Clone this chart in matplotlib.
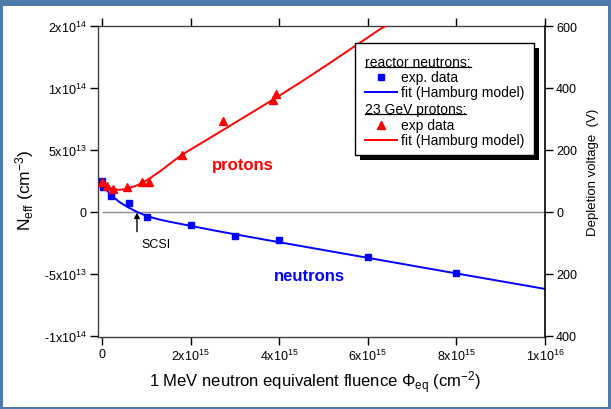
import matplotlib
matplotlib.use('Agg')
import matplotlib.pyplot as plt
from matplotlib.patches import Rectangle
from matplotlib.lines import Line2D
import numpy as np

plt.rcParams['font.family'] = ['Liberation Sans', 'DejaVu Sans']
plt.rcParams['mathtext.fontset'] = 'custom'
plt.rcParams['mathtext.rm'] = 'Liberation Sans'
plt.rcParams['mathtext.it'] = 'Liberation Sans:italic'
plt.rcParams['mathtext.bf'] = 'Liberation Sans:bold'

# ---- data: fluence in units of 1e15 cm^-2, Neff in units of 1e12 cm^-3 ----
neutron_fluence = [0.0, 0.03, 0.2, 0.6, 1.02, 2.0, 3.0, 4.0, 6.0, 8.0]
neutron_neff = [25.3, 19.7, 12.9, 6.8, -4.4, -10.9, -19.7, -22.9, -36.6, -49.4]

neutron_fit_fluence = [0.0, 0.05, 0.1, 0.2, 0.4, 0.6, 0.8, 1.0, 1.25, 1.5, 2.0, 2.5, 3.0, 4.0, 6.0, 8.0, 10.0]
neutron_fit_neff = [24.0, 20.5, 17.8, 13.6, 7.8, 3.4, -0.2, -3.2, -5.8, -7.8, -11.3, -14.8, -18.1, -24.5, -37.1, -49.7, -62.2]

proton_fluence = [0.0, 0.11, 0.25, 0.56, 0.9, 1.06, 1.8, 2.73, 3.86, 3.93]
proton_neff = [24.5, 20.5, 18.1, 19.7, 23.7, 24.5, 45.8, 73.6, 90.4, 95.3]

proton_fit_fluence = [0.0, 0.1, 0.25, 0.4, 0.56, 0.75, 0.9, 1.1, 1.3, 1.8, 2.73, 3.88, 4.5, 5.2, 6.3, 6.5]
proton_fit_neff = [26.0, 21.0, 18.3, 17.8, 18.6, 20.8, 23.2, 27.5, 32.5, 46.0, 66.0, 91.0, 105.0, 121.5, 148.0, 152.0]

x_ticks = [0, 2e15, 4e15, 6e15, 8e15, 1e16]
x_tick_labels = ["0", "2x10$^{15}$", "4x10$^{15}$", "6x10$^{15}$", "8x10$^{15}$", "1x10$^{16}$"]
y_ticks = [-1e14, -5e13, 0, 5e13, 1e14, 1.5e14]
y_tick_labels = ["-1x10$^{14}$", "-5x10$^{13}$", "0", "5x10$^{13}$", "1x10$^{14}$", "2x10$^{14}$"]
v_tick_labels = ["400", "200", "0", "200", "400", "600"]

FS = 1e15
NS = 1e12

W, H = 611, 410
def fx(x):
    return x / W
def fy(y):
    return 1 - y / H

fig = plt.figure(figsize=(W / 100, H / 100), dpi=100)
fig.patch.set_facecolor('white')

ax = fig.add_axes([fx(98), fy(338), fx(545) - fx(98), fy(27) - fy(338)])
ax.set_xlim(-0.09e15, 1e16)
ax.set_ylim(-1.01e14, 1.5e14)

blue = '#0000ff'
red = '#ff0000'

ax.hlines(0, 0, 1e16, color='#8c8c8c', lw=1.0, zorder=1)

ax.plot(np.array(neutron_fit_fluence) * FS, np.array(neutron_fit_neff) * NS, color=blue, lw=1.4, zorder=3)
ax.plot(np.array(proton_fit_fluence) * FS, np.array(proton_fit_neff) * NS, color=red, lw=1.4, zorder=3)
ax.plot(np.array(neutron_fluence) * FS, np.array(neutron_neff) * NS, 's', color=blue, ms=4.6, zorder=4)
ax.plot(np.array(proton_fluence) * FS, np.array(proton_neff) * NS, '^', color=red, ms=6, zorder=4)

ax.set_xticks(x_ticks)
ax.set_xticklabels(x_tick_labels)
ax.set_yticks(y_ticks)
ax.set_yticklabels(y_tick_labels)
ax.tick_params(axis='both', direction='out', length=6, width=1, labelsize=9, pad=2, colors='black')
ax.tick_params(axis='x', top=True, labeltop=False)
for s in ['left', 'bottom', 'top']:
    ax.spines[s].set_color('#404040')
    ax.spines[s].set_linewidth(1.0)
ax.spines['right'].set_visible(False)

ax2 = ax.twinx()
ax2.set_ylim(ax.get_ylim())
ax2.set_yticks(y_ticks)
ax2.set_yticklabels(v_tick_labels)
ax2.tick_params(axis='y', direction='out', length=6, width=1, labelsize=9, pad=2)
ax2.spines['right'].set_color('black')
ax2.spines['right'].set_linewidth(1.2)
for s in ['left', 'bottom', 'top']:
    ax2.spines[s].set_visible(False)

# annotations
ax.annotate('', xy=(0.79e15, -0.5e12), xytext=(0.79e15, -16e12),
            arrowprops=dict(arrowstyle='-|>', color='black', lw=1.0, mutation_scale=8,
                            shrinkA=0, shrinkB=0))
ax.text(1.22e15, -26e12, 'SCSI', fontsize=9, ha='center', va='center')
ax.text(3.19e15, 38e12, 'protons', fontsize=12, fontweight='bold', color=red, ha='center', va='center')
ax.text(4.69e15, -51e12, 'neutrons', fontsize=12, fontweight='bold', color=blue, ha='center', va='center')

# axis labels
fig.text(fx(315), fy(383), '1 MeV neutron equivalent fluence $\\Phi_{\\mathrm{eq}}$ (cm$^{-2}$)',
         fontsize=12, ha='center', va='center')
fig.text(fx(25), fy(190), 'N$_{\\mathrm{eff}}$ (cm$^{-3}$)', fontsize=12.5, rotation=90,
         ha='center', va='center')
fig.text(fx(593), fy(172), 'Depletion voltage  (V)', fontsize=9.5, rotation=90,
         ha='center', va='center')

# legend (drawn manually)
bx0, by0, bx1, by1 = 355, 44, 534, 156
fig.add_artist(Rectangle((fx(bx0 + 5), fy(by1 + 5)), fx(bx1 - bx0), fy(by0) - fy(by1),
                         transform=fig.transFigure, facecolor='black', edgecolor='none', zorder=5))
fig.add_artist(Rectangle((fx(bx0), fy(by1)), fx(bx1 - bx0), fy(by0) - fy(by1),
                         transform=fig.transFigure, facecolor='white', edgecolor='black', lw=1.0, zorder=6))
rows = [63, 78, 93, 110, 126, 141]
hdrs = []
for txt, y in [('reactor neutrons:', rows[0]), ('23 GeV protons:', rows[3])]:
    t = fig.text(fx(365), fy(y), txt, fontsize=10, ha='left', va='center', zorder=7)
    hdrs.append(t)
fig.add_artist(Line2D([fx(381)], [fy(rows[1])], marker='s', color=blue, ms=4.6, ls='none',
                      transform=fig.transFigure, zorder=7))
fig.text(fx(401), fy(rows[1]), 'exp. data', fontsize=10, ha='left', va='center', zorder=7)
fig.add_artist(Line2D([fx(365), fx(397)], [fy(rows[2]), fy(rows[2])], color=blue, lw=1.4,
                      transform=fig.transFigure, zorder=7))
fig.text(fx(401), fy(rows[2]), 'fit (Hamburg model)', fontsize=10, ha='left', va='center', zorder=7)
fig.add_artist(Line2D([fx(381)], [fy(rows[4])], marker='^', color=red, ms=6, ls='none',
                      transform=fig.transFigure, zorder=7))
fig.text(fx(401), fy(rows[4]), 'exp data', fontsize=10, ha='left', va='center', zorder=7)
fig.add_artist(Line2D([fx(365), fx(397)], [fy(rows[5]), fy(rows[5])], color=red, lw=1.4,
                      transform=fig.transFigure, zorder=7))
fig.text(fx(401), fy(rows[5]), 'fit (Hamburg model)', fontsize=10, ha='left', va='center', zorder=7)

fig.canvas.draw()
r = fig.canvas.get_renderer()
for t in hdrs:
    bb = t.get_window_extent(renderer=r)
    fig.add_artist(Line2D([bb.x0 / W, bb.x1 / W], [(bb.y0 + 2) / H, (bb.y0 + 2) / H],
                          color='black', lw=0.9, transform=fig.transFigure, zorder=7))

# window border
bc = '#4e7aab'
fig.add_artist(Rectangle((0, fy(7)), 1, 7 / H, transform=fig.transFigure, facecolor=bc, edgecolor='none', zorder=10))
fig.add_artist(Rectangle((0, 0), 3 / W, 1, transform=fig.transFigure, facecolor=bc, edgecolor='none', zorder=10))
fig.add_artist(Rectangle((1 - 3 / W, 0), 3 / W, 1, transform=fig.transFigure, facecolor=bc, edgecolor='none', zorder=10))
fig.add_artist(Rectangle((0, 0), 1, 2 / H, transform=fig.transFigure, facecolor=bc, edgecolor='none', zorder=10))

fig.savefig('out.png', dpi=100)
